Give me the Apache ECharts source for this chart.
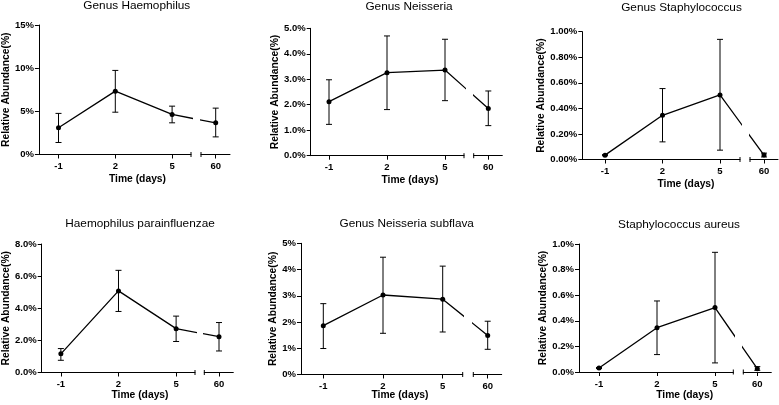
<!DOCTYPE html>
<html><head><meta charset="utf-8">
<script src="https://cdn.jsdelivr.net/npm/echarts@6/dist/echarts.min.js"></script>
<style>html,body{margin:0;padding:0;background:#fff}#c{width:779px;height:405px}</style>
</head><body><div id="c"></div>
<script>
// ---- data ----
const days = ['-1', '2', '5', '60'];
const panelTitles = ['Genus Haemophilus', 'Genus Neisseria', 'Genus Staphylococcus',
  'Haemophilus parainfluenzae', 'Genus Neisseria subflava', 'Staphylococcus aureus'];

const haemophilusMean = [3.09, 7.34, 4.64, 3.67];
const haemophilusLow  = [1.39, 4.90, 3.67, 2.04];
const haemophilusHigh = [4.76, 9.74, 5.60, 5.37];

const neisseriaMean = [2.12, 3.26, 3.36, 1.85];
const neisseriaLow  = [1.23, 1.81, 2.16, 1.18];
const neisseriaHigh = [2.98, 4.70, 4.57, 2.54];

const staphMean = [0.034, 0.346, 0.505, 0.035];
const staphLow  = [0.030, 0.138, 0.073, 0.020];
const staphHigh = [0.038, 0.555, 0.940, 0.050];

const hParaMean = [1.16, 5.08, 2.73, 2.23];
const hParaLow  = [0.76, 3.80, 1.93, 1.34];
const hParaHigh = [1.49, 6.36, 3.51, 3.11];

const subflavaMean = [1.86, 3.03, 2.87, 1.49];
const subflavaLow  = [0.99, 1.57, 1.62, 0.96];
const subflavaHigh = [2.70, 4.47, 4.13, 2.03];

const aureusMean = [0.031, 0.346, 0.503, 0.026];
const aureusLow  = [0.027, 0.136, 0.071, 0.013];
const aureusHigh = [0.035, 0.555, 0.935, 0.042];

const yMaxes = [15, 5, 1, 8, 5, 1];
const ySteps = [5, 1, 0.2, 2, 1, 0.2];
const yDecimals = [0, 1, 2, 1, 0, 1];

const yAxisName = 'Relative Abundance(%)';
const xAxisName = 'Time (days)';

// ---- layout (pixels) ----
const layout = [
  {left: 35.7, x0: 55.7, step: 58, mainEnd: 191, secStart: 201, x60: 215.7, right: 230, top: 25, bottom: 154.5, tx: 131.8, ty: 5.5, nx: 132.5, ny: 178.3, yn: 5},
  {left: 310.7, x0: 329, step: 58, mainEnd: 464, secStart: 473.7, x60: 488.3, right: 502.3, top: 28.3, bottom: 155.7, tx: 404, ty: 6.5, nx: 405, ny: 180, yn: 275},
  {left: 582.3, x0: 605, step: 57.5, mainEnd: 740, secStart: 750, x60: 764, right: 778, top: 31.7, bottom: 159.5, tx: 676.5, ty: 7.5, nx: 681, ny: 183.3, yn: 544},
  {left: 40.7, x0: 60, step: 58, mainEnd: 195, secStart: 204.3, x60: 219, right: 233.3, top: 244, bottom: 372.5, tx: 135, ty: 223.3, nx: 135, ny: 395, yn: 4},
  {left: 301, x0: 323.3, step: 59.7, mainEnd: 462.7, secStart: 473.3, x60: 487.7, right: 501.7, top: 243.3, bottom: 374.5, tx: 401.7, ty: 223.3, nx: 395, ny: 395, yn: 274.5},
  {left: 579, x0: 599, step: 58, mainEnd: 733.3, secStart: 743.3, x60: 757.3, right: 771.3, top: 244, bottom: 372, tx: 674, ty: 224.3, nx: 679.7, ny: 395, yn: 544}
];
const TITLE_SHIFT = 4.6;

const panels = [
  {mean: haemophilusMean, lo: haemophilusLow, hi: haemophilusHigh},
  {mean: neisseriaMean, lo: neisseriaLow, hi: neisseriaHigh},
  {mean: staphMean, lo: staphLow, hi: staphHigh},
  {mean: hParaMean, lo: hParaLow, hi: hParaHigh},
  {mean: subflavaMean, lo: subflavaLow, hi: subflavaHigh},
  {mean: aureusMean, lo: aureusLow, hi: aureusHigh}
];

const FONT = '"Liberation Sans", Arial, Helvetica, sans-serif';
const BLACK = '#000';

const option = {animation: false, backgroundColor: '#fff', title: [], grid: [], xAxis: [], yAxis: [], series: []};

function errorBarRender(params, api) {
  const p1 = api.coord([api.value(0), api.value(1)]);
  const p2 = api.coord([api.value(0), api.value(2)]);
  const c = 3;
  const st = {stroke: BLACK, lineWidth: 1};
  return {type: 'group', children: [
    {type: 'line', shape: {x1: p1[0], y1: p1[1], x2: p2[0], y2: p2[1]}, style: st},
    {type: 'line', shape: {x1: p1[0] - c, y1: p1[1], x2: p1[0] + c, y2: p1[1]}, style: st},
    {type: 'line', shape: {x1: p2[0] - c, y1: p2[1], x2: p2[0] + c, y2: p2[1]}, style: st}
  ]};
}
function breakRender(params, api) {
  const p = api.coord([api.value(0), 0]);
  return {type: 'line', shape: {x1: p[0], y1: p[1] - 2.5, x2: p[0], y2: p[1] + 2.5}, style: {stroke: BLACK, lineWidth: 1}};
}

panels.forEach((p, i) => {
  const L = layout[i];
  const pos = px => (px - L.x0) / L.step;
  const xPos = [0, 1, 2, pos(L.x60)];
  const g = option.grid.length;
  const h = L.bottom - L.top;
  option.grid.push({left: L.left, top: L.top, width: L.mainEnd - L.left, height: h});
  option.grid.push({left: L.secStart, top: L.top, width: L.right - L.secStart, height: h});

  option.title.push({text: panelTitles[i], left: L.tx, top: L.ty - TITLE_SHIFT, textAlign: 'center', textVerticalAlign: 'middle',
    textStyle: {fontFamily: FONT, fontSize: 11.8, fontWeight: 'normal', color: BLACK}});
  option.title.push({text: xAxisName, left: L.nx, top: L.ny - TITLE_SHIFT, textAlign: 'center', textVerticalAlign: 'middle',
    textStyle: {fontFamily: FONT, fontSize: 10.3, fontWeight: 'bold', color: BLACK}});

  const axisLine = {show: true, onZero: false, lineStyle: {color: BLACK, width: 1}};
  const lab = {fontFamily: FONT, fontSize: 9.5, fontWeight: 'bold', color: BLACK};
  const mainTicks = [0, 1, 2];
  option.xAxis.push({type: 'value', gridIndex: g, min: pos(L.left), max: pos(L.mainEnd),
    axisLine, splitLine: {show: false},
    axisTick: {show: true, customValues: mainTicks, length: 4, lineStyle: {color: BLACK}},
    axisLabel: Object.assign({show: true, customValues: mainTicks, margin: 7,
      formatter: v => days[Math.round(v)]}, lab)});
  option.xAxis.push({type: 'value', gridIndex: g + 1, min: pos(L.secStart), max: pos(L.right),
    axisLine, splitLine: {show: false},
    axisTick: {show: true, customValues: [xPos[3]], length: 4, lineStyle: {color: BLACK}},
    axisLabel: Object.assign({show: true, customValues: [xPos[3]], margin: 7,
      formatter: () => days[3]}, lab)});

  option.yAxis.push({type: 'value', gridIndex: g, min: 0, max: yMaxes[i], interval: ySteps[i],
    axisLine, splitLine: {show: false},
    axisTick: {show: true, length: 4, lineStyle: {color: BLACK}},
    axisLabel: Object.assign({margin: 5, formatter: v => v.toFixed(yDecimals[i]) + '%'}, lab),
    name: yAxisName, nameLocation: 'middle', nameGap: L.left - L.yn - 6,
    nameTextStyle: {fontFamily: FONT, fontSize: 10.3, fontWeight: 'bold', color: BLACK}});
  option.yAxis.push({type: 'value', gridIndex: g + 1, min: 0, max: yMaxes[i], show: false});

  const lineData = xPos.map((x, k) => [x, p.mean[k]]);
  [0, 1].forEach(s => {
    option.series.push({type: 'line', xAxisIndex: g + s, yAxisIndex: g + s, data: lineData, clip: true,
      symbol: 'circle', symbolSize: 5, showSymbol: true,
      itemStyle: {color: BLACK}, lineStyle: {color: BLACK, width: 1.3}, z: 3});
  });
  option.series.push({type: 'custom', xAxisIndex: g, yAxisIndex: g, renderItem: errorBarRender,
    encode: {x: 0, y: [1, 2]}, data: [0, 1, 2].map(k => [xPos[k], p.lo[k], p.hi[k]]), z: 2});
  option.series.push({type: 'custom', xAxisIndex: g + 1, yAxisIndex: g + 1, renderItem: errorBarRender,
    encode: {x: 0, y: [1, 2]}, data: [[xPos[3], p.lo[3], p.hi[3]]], z: 2});
  option.series.push({type: 'custom', xAxisIndex: g, yAxisIndex: g, renderItem: breakRender,
    encode: {x: 0}, data: [[pos(L.mainEnd)]], z: 4, silent: true});
  option.series.push({type: 'custom', xAxisIndex: g + 1, yAxisIndex: g + 1, renderItem: breakRender,
    encode: {x: 0}, data: [[pos(L.secStart)]], z: 4, silent: true});
});

const chart = echarts.init(document.getElementById('c'), null, {renderer: 'canvas'});
chart.setOption(option);
</script>
</body></html>
